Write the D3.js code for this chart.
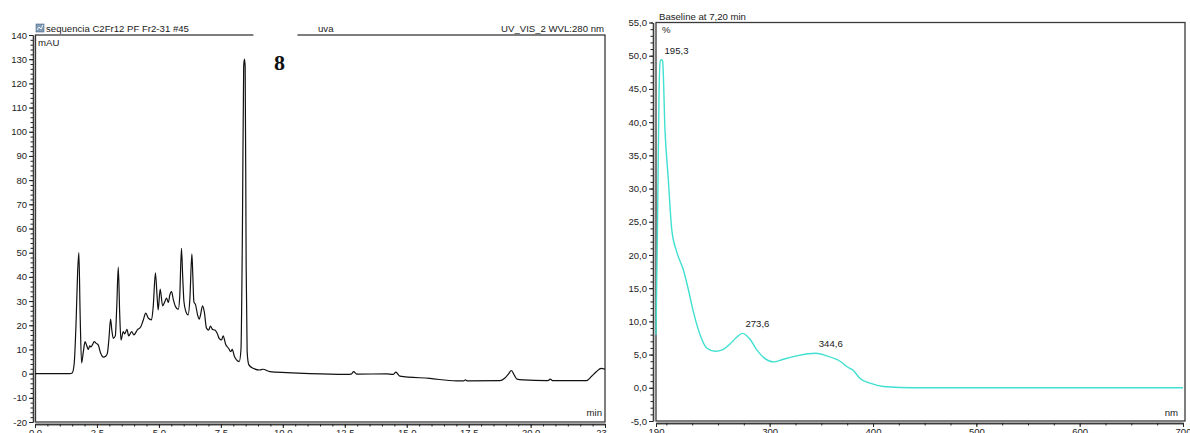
<!DOCTYPE html>
<html>
<head>
<meta charset="utf-8">
<script src="https://cdn.jsdelivr.net/npm/d3@7"></script>
<style>
  body { margin: 0; background: #fff; }
  svg { display: block; }
  text { fill: #1a1a1a; }
</style>
</head>
<body>
<svg id="chart" width="1190" height="433" font-family="'Liberation Sans', Arial, sans-serif"></svg>
<script>
// ---- Chromatogram (UV_VIS_2, 280 nm) ----
const rtTimes = [0, 1.40, 1.50, 1.58, 1.66, 1.72, 1.77, 1.82, 1.88, 1.95, 2.02, 2.09, 2.15, 2.21, 2.26, 2.32, 2.39, 2.47, 2.55, 2.65, 2.76, 2.85, 2.92, 2.98, 3.05, 3.10, 3.16, 3.24, 3.30, 3.36, 3.42, 3.47, 3.56, 3.62, 3.71, 3.78, 3.90, 3.99, 4.13, 4.27, 4.37, 4.47, 4.57, 4.70, 4.77, 4.86, 4.92, 4.97, 5.05, 5.15, 5.24, 5.31, 5.38, 5.44, 5.51, 5.58, 5.67, 5.78, 5.84, 5.91, 5.96, 6.01, 6.09, 6.18, 6.25, 6.33, 6.37, 6.41, 6.48, 6.56, 6.63, 6.68, 6.76, 6.83, 6.92, 7.01, 7.08, 7.16, 7.26, 7.35, 7.43, 7.53, 7.59, 7.70, 7.81, 7.90, 7.96, 8.04, 8.13, 8.24, 8.31, 8.37, 8.42, 8.45, 8.48, 8.52, 8.56, 8.63, 8.80, 9.07, 9.20, 9.48, 10.15, 11.09, 12.57, 12.76, 12.86, 12.98, 14.18, 14.45, 14.56, 14.72, 15.93, 17.00, 17.30, 17.37, 17.45, 18.75, 18.95, 19.10, 19.22, 19.35, 19.45, 19.70, 20.63, 20.72, 20.79, 20.90, 22.25, 22.45, 22.65, 22.85, 23.00];
const rtValues = [0, 0, 0.3, 4, 22, 42, 50, 25, 4.4, 9, 13.2, 11.5, 10, 11.5, 11, 12, 13.2, 12.5, 11.9, 8.4, 6.8, 7.2, 8.4, 14, 22.5, 18, 14.6, 15.6, 28, 44, 24, 13.9, 17.4, 16.4, 18.3, 15.6, 17.4, 16, 18.1, 19.4, 22.2, 25, 23, 22.2, 27.7, 41.7, 33, 26.3, 34.9, 28, 29.8, 31.2, 29.4, 32.5, 33.9, 30.7, 27.7, 26.6, 31.8, 51.8, 40, 29.8, 25.6, 24.3, 31, 49.5, 40, 29.8, 28.4, 24.3, 22.5, 24.3, 28, 25.6, 18.8, 18, 19.7, 18.3, 18, 16.7, 14.6, 13.9, 15.6, 11.9, 10.5, 9.1, 10, 7.3, 5.7, 5, 9.8, 60, 127, 130, 127, 45, 9, 3.6, 2.2, 1.5, 1.8, 0.8, 0.4, 0, -0.3, -0.2, 0.8, -0.2, -0.1, -0.3, 0.6, -1, -2, -3, -3, -2.6, -3, -2.9, -1.9, -0.2, 1.3, -0.8, -2.3, -2.6, -2.9, -2.8, -2.3, -2.9, -2.9, -1.2, 0.8, 2.2, 1.8];
const rtMajorTicks = [0, 2.5, 5, 7.5, 10, 12.5, 15, 17.5, 20, 23];
const rtMinorTicks = d3.range(0, 23.01, 0.5);
const mauMajorTicks = d3.range(-20, 141, 10);
const mauMinorTicks = d3.range(-20, 141, 2);
const peakTime = 8.45;
const peakName = "8";

// ---- UV spectrum of the peak ----
const specNm = [190, 191.5, 193, 194.2, 195.3, 196.4, 198.7, 201.9, 205.2, 210, 216.4, 221.3, 226.1, 232.6, 239.1, 247.1, 255.2, 261.6, 268.1, 273.6, 281, 287.5, 295.5, 303.6, 313.2, 326.2, 344.6, 355.2, 368.1, 374.6, 381, 387.5, 397.2, 410, 426, 450, 500, 600, 700];
const specPct = [8, 25, 45, 49.3, 49.4, 49.2, 38.8, 31.4, 23.9, 20.5, 17.8, 14.8, 11.5, 8, 6.0, 5.5, 5.8, 6.6, 7.6, 8.2, 7.3, 5.7, 4.4, 3.9, 4.3, 4.8, 5.2, 4.8, 4.0, 3.2, 2.6, 1.4, 0.7, 0.2, 0.05, 0, 0, 0, 0];
const specMaxima = [195.3, 273.6, 344.6];
const nmMajorTicks = [190, 300, 400, 500, 600, 700];
const nmMinorTicks = d3.range(200, 701, 25);
const pctMajorTicks = d3.range(-5, 56, 5);
const pctMinorTicks = d3.range(-5, 56, 1);

const svg = d3.select("#chart");
const frameColor = "#3a3a3a";
const comma = d => d.toFixed(1).replace(".", ",");

// ================= Left panel: chromatogram =================
const L = { x0: 35.5, x1: 605, y0: 35, y1: 422 };
svg.append("clipPath").attr("id", "leftClip")
  .append("rect").attr("x", 0).attr("y", 0).attr("width", 608).attr("height", 433);
const left = svg.append("g").attr("clip-path", "url(#leftClip)");

const xRt = d3.scaleLinear().domain([0, 23]).range([35, 605]);
const yMau = d3.scaleLinear().domain([-20, 140]).range([L.y1, L.y0]);

// plot frame
left.append("rect").attr("x", L.x0).attr("y", L.y0)
  .attr("width", L.x1 - L.x0).attr("height", L.y1 - L.y0)
  .attr("fill", "none").attr("stroke", frameColor).attr("stroke-width", 1.3);

// y axis
left.append("g").attr("transform", "translate(33,0)")
  .call(d3.axisLeft(yMau).tickValues(mauMajorTicks).tickSize(4).tickSizeOuter(0)
    .tickPadding(2).tickFormat(d => String(d)));
left.append("g").attr("transform", "translate(33,0)")
  .call(d3.axisLeft(yMau).tickValues(mauMinorTicks).tickSize(2.5).tickSizeOuter(0).tickFormat(""));

// x axis
left.append("g").attr("transform", "translate(0,424)")
  .call(d3.axisBottom(xRt).tickValues(rtMajorTicks).tickSize(4).tickSizeOuter(0)
    .tickPadding(1).tickFormat(d3.format(".1f")));
left.append("g").attr("transform", "translate(0,424)")
  .call(d3.axisBottom(xRt).tickValues(rtMinorTicks).tickSize(2.5).tickSizeOuter(0).tickFormat(""));

left.selectAll("g").attr("font-family", null);
left.selectAll(".domain").attr("stroke", frameColor).attr("stroke-width", 1.3);
left.selectAll(".tick line").attr("stroke", "#222");
left.selectAll(".tick text").attr("font-size", 9.5).style("fill", "#222");

// trace
const chromPts = rtTimes.map((t, i) => [t, rtValues[i]]);
left.append("path").datum(chromPts)
  .attr("fill", "none").attr("stroke", "#111").attr("stroke-width", 1.2)
  .attr("d", d3.line().x(d => xRt(d[0])).y(d => yMau(d[1])).curve(d3.curveMonotoneX));

// peak label
const lblX = xRt(peakTime) + 35;
left.append("rect").attr("x", lblX - 26).attr("y", 30).attr("width", 44).attr("height", 12).attr("fill", "#fff");
left.append("text").attr("x", lblX).attr("y", 70).attr("text-anchor", "middle")
  .style("font-family", "'Liberation Serif', 'Times New Roman', serif")
  .attr("font-weight", "bold").attr("font-size", 22).style("fill", "#111").text(peakName);

// header
const icon = left.append("g").attr("transform", "translate(36,24)");
icon.append("rect").attr("width", 8).attr("height", 8).attr("fill", "#7f9bb5").attr("stroke", "#4a6a8a").attr("stroke-width", 0.6);
icon.append("path").attr("d", "M1,6 L3,3 L5,5 L7,1").attr("fill", "none").attr("stroke", "#fff").attr("stroke-width", 0.9);
left.append("text").attr("x", 46).attr("y", 32).attr("font-size", 9.6).text("sequencia C2Fr12 PF Fr2-31 #45");
left.append("text").attr("x", 318).attr("y", 32).attr("font-size", 9.6).text("uva");
left.append("text").attr("x", 604).attr("y", 32).attr("text-anchor", "end").attr("font-size", 9.6).text("UV_VIS_2 WVL:280 nm");
left.append("text").attr("x", 38).attr("y", 46).attr("font-size", 9.6).text("mAU");
left.append("text").attr("x", 602).attr("y", 416).attr("text-anchor", "end").attr("font-size", 9.6).text("min");

// ================= Right panel: spectrum =================
const R = { x0: 656, x1: 1185, y0: 22.5, y1: 421 };
const right = svg.append("g");
const xNm = d3.scaleLinear().domain([190, 700]).range([656, 1183]);
const yPct = d3.scaleLinear().domain([-5, 55]).range([R.y1, R.y0]);

right.append("rect").attr("x", R.x0).attr("y", R.y0)
  .attr("width", R.x1 - R.x0).attr("height", R.y1 - R.y0)
  .attr("fill", "none").attr("stroke", frameColor).attr("stroke-width", 1.3);

right.append("g").attr("transform", "translate(653,0)")
  .call(d3.axisLeft(yPct).tickValues(pctMajorTicks).tickSize(4).tickSizeOuter(0)
    .tickPadding(2).tickFormat(comma));
right.append("g").attr("transform", "translate(653,0)")
  .call(d3.axisLeft(yPct).tickValues(pctMinorTicks).tickSize(2.5).tickSizeOuter(0).tickFormat(""));
right.append("g").attr("transform", "translate(0,423)")
  .call(d3.axisBottom(xNm).tickValues(nmMajorTicks).tickSize(4).tickSizeOuter(0)
    .tickPadding(1).tickFormat(d3.format("d")));
right.append("g").attr("transform", "translate(0,423)")
  .call(d3.axisBottom(xNm).tickValues(nmMinorTicks).tickSize(2.5).tickSizeOuter(0).tickFormat(""));

right.selectAll("g").attr("font-family", null);
right.selectAll(".domain").attr("stroke", frameColor).attr("stroke-width", 1.3);
right.selectAll(".tick line").attr("stroke", "#222");
right.selectAll(".tick text").attr("font-size", 9.5).style("fill", "#222");

const specPts = specNm.map((n, i) => [n, specPct[i]]);
right.append("path").datum(specPts)
  .attr("fill", "none").attr("stroke", "#3fe0d0").attr("stroke-width", 1.4)
  .attr("d", d3.line().x(d => xNm(d[0])).y(d => yPct(d[1])).curve(d3.curveMonotoneX));

// maxima labels
specMaxima.forEach(nm => {
  const v = specPct[specNm.indexOf(nm)];
  right.append("text").attr("x", xNm(nm) + 3).attr("y", yPct(v) - 6)
    .attr("font-size", 9.6).text(comma(nm));
});

right.append("text").attr("x", 659).attr("y", 20).attr("font-size", 9.6).text("Baseline at 7,20 min");
right.append("text").attr("x", 662).attr("y", 33).attr("font-size", 9.6).text("%");
right.append("text").attr("x", 1178).attr("y", 416).attr("text-anchor", "end").attr("font-size", 9.6).text("nm");
</script>
</body>
</html>
